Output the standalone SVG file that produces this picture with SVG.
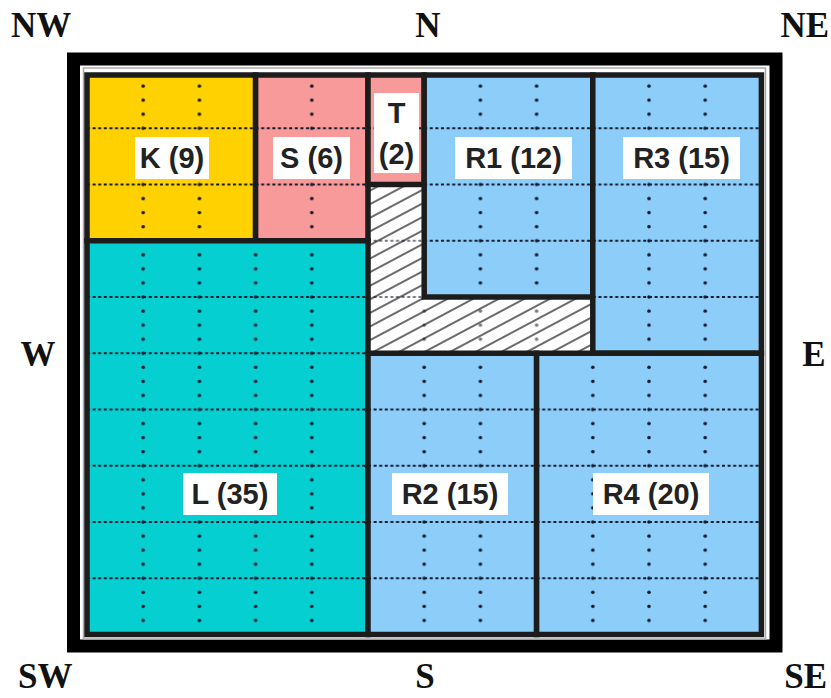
<svg xmlns="http://www.w3.org/2000/svg" width="831" height="698" viewBox="0 0 831 698">
<style>
.compass{font-family:"Liberation Serif","Times New Roman",serif;font-weight:bold;font-size:35px;fill:#111}
.lbl{font-family:"Liberation Sans",Arial,sans-serif;font-weight:bold;font-size:29px;fill:#222;text-anchor:middle}
.box{fill:#fff}
.border{fill:none;stroke:#1c1c1c;stroke-width:5.5}
.yellow{fill:#FFD100}
.pink{fill:#F8999A}
.blue{fill:#8DCDF9}
.cyan{fill:#05CFD0}
.dash{stroke:#10182a;stroke-width:1.8;stroke-dasharray:3 2.6}
.dot{fill:#10182a}
</style>
<defs>
<pattern id="grid" patternUnits="userSpaceOnUse" x="87" y="72" width="56.2" height="56.25">
<line class="dash" x1="0" y1="0" x2="56.2" y2="0"/>
<line class="dash" x1="0" y1="56.25" x2="56.2" y2="56.25"/>
<circle class="dot" cx="0" cy="0" r="1.8"/>
<circle class="dot" cx="0" cy="14.06" r="1.8"/>
<circle class="dot" cx="0" cy="28.13" r="1.8"/>
<circle class="dot" cx="0" cy="42.19" r="1.8"/>
<circle class="dot" cx="0" cy="56.25" r="1.8"/>
<circle class="dot" cx="56.2" cy="0" r="1.8"/>
<circle class="dot" cx="56.2" cy="14.06" r="1.8"/>
<circle class="dot" cx="56.2" cy="28.13" r="1.8"/>
<circle class="dot" cx="56.2" cy="42.19" r="1.8"/>
<circle class="dot" cx="56.2" cy="56.25" r="1.8"/>
</pattern>
<pattern id="hatch" patternUnits="userSpaceOnUse" width="10" height="12" patternTransform="rotate(-28)">
<line x1="-1" y1="6" x2="11" y2="6" stroke="#2a2a2a" stroke-width="1.4"/>
</pattern>
</defs>
<rect width="831" height="698" fill="#fff"/>
<g id="frame">
<rect x="73.5" y="59" width="702.5" height="587" fill="none" stroke="#000" stroke-width="13"/>
<rect x="83.5" y="68" width="682" height="571" fill="none" stroke="#aaa" stroke-width="1.5"/>
</g>
<g id="compass">
<text class="compass" x="11" y="37">NW</text>
<text class="compass" x="428" y="37" text-anchor="middle">N</text>
<text class="compass" x="829" y="37" text-anchor="end">NE</text>
<text class="compass" x="38" y="366" text-anchor="middle">W</text>
<text class="compass" x="814" y="366" text-anchor="middle">E</text>
<text class="compass" x="18" y="688">SW</text>
<text class="compass" x="425" y="688" text-anchor="middle">S</text>
<text class="compass" x="827" y="688" text-anchor="end">SE</text>
</g>
<g id="hatched">
<path d="M368,184.5 H424.2 V297 H592.8 V353.25 H368 Z" fill="#fff"/>
<path d="M368,184.5 H424.2 V297 H592.8 V353.25 H368 Z" fill="url(#hatch)"/>
<path d="M368,184.5 H424.2 V297 H592.8 V353.25 H368 Z" fill="url(#grid)" opacity="0.6"/>
</g>
<g id="K">
<rect class="yellow" x="87" y="75" width="168.6" height="165.75"/>
<rect fill="url(#grid)" x="87" y="75" width="168.6" height="165.75"/>
<rect class="border" x="87" y="75" width="168.6" height="165.75"/>
<rect class="box" x="135" y="137" width="74" height="42"/>
<text class="lbl" x="172" y="168">K (9)</text>
</g>
<g id="S">
<rect class="pink" x="255.6" y="75" width="112.4" height="165.75"/>
<rect fill="url(#grid)" x="255.6" y="75" width="112.4" height="165.75"/>
<rect class="border" x="255.6" y="75" width="112.4" height="165.75"/>
<rect class="box" x="273" y="137" width="77" height="42"/>
<text class="lbl" x="311.5" y="168">S (6)</text>
</g>
<g id="T">
<rect class="pink" x="368" y="75" width="56.2" height="109.5"/>
<rect fill="url(#grid)" x="368" y="75" width="56.2" height="109.5"/>
<rect class="border" x="368" y="75" width="56.2" height="109.5"/>
<rect class="box" x="374" y="93" width="45" height="80"/>
<text class="lbl" x="396.5" y="123">T</text>
<text class="lbl" x="396.5" y="164">(2)</text>
</g>
<g id="R1">
<rect class="blue" x="424.2" y="75" width="168.6" height="222"/>
<rect fill="url(#grid)" x="424.2" y="75" width="168.6" height="222"/>
<rect class="border" x="424.2" y="75" width="168.6" height="222"/>
<rect class="box" x="455" y="137" width="117" height="42"/>
<text class="lbl" x="513.5" y="168">R1 (12)</text>
</g>
<g id="R3">
<rect class="blue" x="592.8" y="75" width="168.6" height="278.25"/>
<rect fill="url(#grid)" x="592.8" y="75" width="168.6" height="278.25"/>
<rect class="border" x="592.8" y="75" width="168.6" height="278.25"/>
<rect class="box" x="623" y="137" width="117" height="42"/>
<text class="lbl" x="681.5" y="168">R3 (15)</text>
</g>
<g id="L">
<rect class="cyan" x="87" y="240.75" width="281" height="393.75"/>
<rect fill="url(#grid)" x="87" y="240.75" width="281" height="393.75"/>
<rect class="border" x="87" y="240.75" width="281" height="393.75"/>
<rect class="box" x="183" y="473" width="94" height="42"/>
<text class="lbl" x="230" y="504">L (35)</text>
</g>
<g id="R2">
<rect class="blue" x="368" y="353.25" width="168.6" height="281.25"/>
<rect fill="url(#grid)" x="368" y="353.25" width="168.6" height="281.25"/>
<rect class="border" x="368" y="353.25" width="168.6" height="281.25"/>
<rect class="box" x="392" y="473" width="116" height="42"/>
<text class="lbl" x="450" y="504">R2 (15)</text>
</g>
<g id="R4">
<rect class="blue" x="536.6" y="353.25" width="224.8" height="281.25"/>
<rect fill="url(#grid)" x="536.6" y="353.25" width="224.8" height="281.25"/>
<rect class="border" x="536.6" y="353.25" width="224.8" height="281.25"/>
<rect class="box" x="593" y="473" width="116" height="42"/>
<text class="lbl" x="651" y="504">R4 (20)</text>
</g>
<g id="connectors"/>
</svg>
